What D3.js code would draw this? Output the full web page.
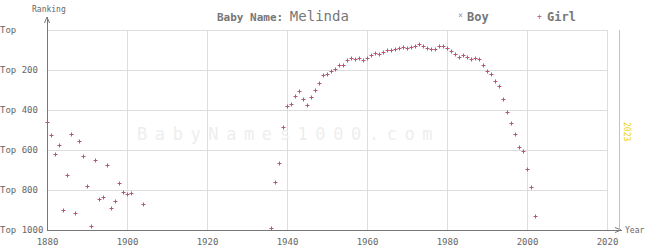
<!DOCTYPE html>
<html><head><meta charset="utf-8">
<script src="https://cdn.jsdelivr.net/npm/d3@7"></script>
<style>body{margin:0;background:#fff}svg{display:block}</style>
</head><body>
<script>
const girlYears = [1880,1881,1882,1883,1884,1885,1886,1887,1888,1889,1890,1891,1892,1893,1894,1895,1896,1897,1898,1899,1900,1901,1904,
1936,1937,1938,1939,1940,1941,1942,1943,1944,1945,1946,1947,1948,1949,1950,1951,1952,1953,1954,1955,1956,1957,1958,1959,
1960,1961,1962,1963,1964,1965,1966,1967,1968,1969,1970,1971,1972,1973,1974,1975,1976,1977,1978,1979,
1980,1981,1982,1983,1984,1985,1986,1987,1988,1989,1990,1991,1992,1993,1994,1995,1996,1997,1998,1999,2000,2001,2002];
const girlRanks = [461,527,622,577,902,727,522,917,557,632,782,982,652,847,837,677,892,857,767,812,822,817,872,
992,762,667,487,382,372,332,307,347,377,337,300,267,227,222,207,197,177,177,152,142,147,142,152,
142,127,117,122,112,102,102,97,92,87,92,87,82,72,82,92,97,97,82,82,
92,107,122,137,127,137,147,142,147,177,207,222,257,282,347,412,467,522,587,607,697,787,932];
const boyYears = [];
const boyRanks = [];
const yTicks = [0,200,400,600,800,1000];
const yTickLabels = ["Top","Top 200","Top 400","Top 600","Top 800","Top 1000"];
const xTicks = [1880,1900,1920,1940,1960,1980,2000,2020];
const currentYear = 2023;

const W=645,H=250;
const svg=d3.select("body").append("svg").attr("width",W).attr("height",H);
const font="'DejaVu Sans Mono', monospace";
const x=d3.scaleLinear().domain([1880,2020]).range([47,607]);
const y=d3.scaleLinear().domain([0,1000]).range([30,230]);

// grid
svg.append("g").selectAll("line").data(xTicks.slice(1)).join("line")
 .attr("x1",d=>x(d)).attr("x2",d=>x(d)).attr("y1",30).attr("y2",230)
 .attr("stroke","#ddd").attr("stroke-width",1).attr("shape-rendering","crispEdges");
svg.append("g").selectAll("line").data(yTicks.slice(0,5)).join("line")
 .attr("x1",47).attr("x2",607).attr("y1",d=>y(d)).attr("y2",d=>y(d))
 .attr("stroke","#ddd").attr("stroke-width",1).attr("shape-rendering","crispEdges");

// watermark
svg.append("text").attr("x",137).attr("y",140).text("BabyNames1000.com")
 .attr("font-family",font).attr("font-size",17).attr("letter-spacing",7.6)
 .attr("fill","#eee");

// axes
const axisColor="#777";
const yAxis=d3.axisLeft(y).tickValues(yTicks).tickFormat((d,i)=>yTickLabels[i]).tickSize(0);
const gy=svg.append("g").attr("transform","translate(47,0)").call(yAxis);
gy.select(".domain").remove();
gy.selectAll("text").attr("text-anchor","start").attr("x",-47).attr("dy","0.32em")
 .attr("font-family",font).attr("font-size",9).attr("fill","#666");
const xAxis=d3.axisBottom(x).tickValues(xTicks).tickFormat(d3.format("d")).tickSize(0);
const gx=svg.append("g").attr("transform","translate(0,230)").call(xAxis);
gx.select(".domain").remove();
gx.selectAll("text").attr("y",9).attr("dy","0.71em")
 .attr("font-family",font).attr("font-size",9).attr("fill","#666");

svg.append("line").attr("x1",47).attr("x2",47).attr("y1",17).attr("y2",231)
 .attr("stroke",axisColor).attr("stroke-width",1).attr("shape-rendering","crispEdges");
svg.append("path").attr("d","M44.5,23 L47,17 L49.5,23").attr("fill","none").attr("stroke",axisColor);
svg.append("line").attr("x1",47).attr("x2",622).attr("y1",230).attr("y2",230)
 .attr("stroke",axisColor).attr("stroke-width",1).attr("shape-rendering","crispEdges");
svg.append("path").attr("d","M615,227.5 L621,230 L615,232.5").attr("fill","none").attr("stroke",axisColor);
svg.append("text").attr("x",32).attr("y",12).text("Ranking")
 .attr("font-family",font).attr("font-size",8).attr("fill","#666");
svg.append("text").attr("x",625).attr("y",233).text("Year")
 .attr("font-family",font).attr("font-size",8).attr("fill","#666");

// current year line
svg.append("line").attr("x1",x(currentYear)).attr("x2",x(currentYear)).attr("y1",30).attr("y2",230)
 .attr("stroke","#f0d000").attr("stroke-width",1).attr("shape-rendering","crispEdges");
svg.append("text").attr("transform",`translate(${x(currentYear)+5},122) rotate(90)`).text(currentYear)
 .attr("font-family",font).attr("font-size",8).attr("fill","#f0d000");

// title
svg.append("text").attr("x",217).attr("y",21).attr("font-family",font).attr("fill","#777")
 .call(t=>{t.append("tspan").text("Baby Name: ").attr("font-size",11).attr("font-weight","bold");
 t.append("tspan").text("Melinda").attr("font-size",14);});

// legend
svg.append("text").attr("x",458).attr("y",18).text("×").attr("font-family",font).attr("font-size",8).attr("fill","#8899bb");
svg.append("text").attr("x",467).attr("y",21).text("Boy").attr("font-family",font).attr("font-size",12).attr("font-weight","bold").attr("fill","#777");
svg.append("text").attr("x",537).attr("y",19).text("+").attr("font-family",font).attr("font-size",8).attr("fill","#b5577a");
svg.append("text").attr("x",547).attr("y",21).text("Girl").attr("font-family",font).attr("font-size",12).attr("font-weight","bold").attr("fill","#777");

// marks
const girl=girlYears.map((d,i)=>({year:d,rank:girlRanks[i]}));
svg.append("g").selectAll("path").data(girl).join("path")
 .attr("d",d=>{const cx=Math.round(x(d.year))+0.5, cy=Math.round(y(d.rank))+0.5;
   return `M${cx-2},${cy}H${cx+2}M${cx},${cy-2}V${cy+2}`;})
 .attr("stroke","#b5577a").attr("stroke-width",1).attr("fill","none");
const boy=boyYears.map((d,i)=>({year:d,rank:boyRanks[i]}));
svg.append("g").selectAll("path").data(boy).join("path")
 .attr("d",d=>{const cx=x(d.year), cy=y(d.rank);
   return `M${cx-1.5},${cy-1.5}L${cx+1.5},${cy+1.5}M${cx-1.5},${cy+1.5}L${cx+1.5},${cy-1.5}`;})
 .attr("stroke","#8899bb").attr("fill","none");
</script>
</body></html>
